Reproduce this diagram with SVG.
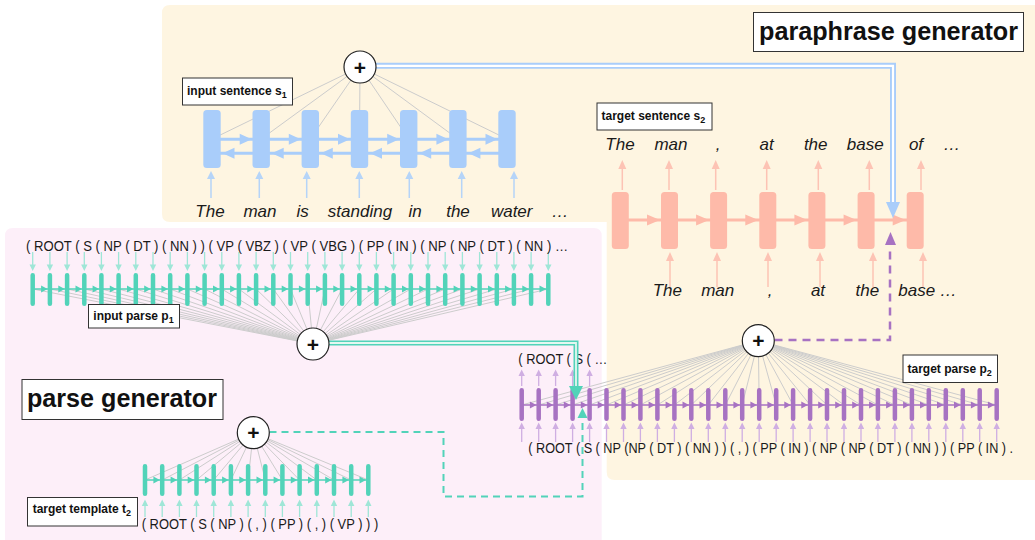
<svg xmlns="http://www.w3.org/2000/svg" width="1035" height="540" viewBox="0 0 1035 540">
<style>
.gl{stroke:#cccccc;stroke-width:1;fill:none}
.lbl{fill:#fff;stroke:#333;stroke-width:1}
.lt{font-family:"Liberation Sans",Arial,sans-serif;font-weight:bold;font-size:12px;fill:#111}
.big{font-size:25px}
.w{font-family:"Liberation Sans",Arial,sans-serif;font-style:italic;font-size:17px;fill:#1a1a1a;text-anchor:middle}
.pt{font-family:"Liberation Sans",Arial,sans-serif;font-size:15px;fill:#1a1a1a}
.circ{fill:#fff;stroke:#222;stroke-width:1.2}
.plus{font-family:"Liberation Sans",Arial,sans-serif;font-weight:bold;font-size:21px;text-anchor:middle;fill:#111}
.blue{fill:#a9cdfa}
.blueL{stroke:#b5d4f8;stroke-width:1.5;fill:none}
.blueH{fill:#b5d4f8}
.sal{fill:#febaa9}
.salL{stroke:#fdc3b4;stroke-width:1.5;fill:none}
.salH{fill:#fdc3b4}
.tealBar{stroke:#52d3b9;stroke-width:4.5;stroke-linecap:round;fill:none}
.purBar{stroke:#a772c2;stroke-width:4.5;stroke-linecap:round;fill:none}
.tealL{stroke:#9fe6d7;stroke-width:1.3;fill:none}
.tealH{fill:#9fe6d7}
.purL{stroke:#cfaee2;stroke-width:1.3;fill:none}
.purH{fill:#cfaee2}
</style>
<rect width="1035" height="540" fill="#fff"/>
<g id="panels">
<path d="M170 5H1035V480H614.7Q606.7 480 606.7 472V222H170Q162 222 162 214V13Q162 5 170 5Z" fill="#fef5e1"/>
<path d="M13 228H593.7Q601.7 228 601.7 236V540H5V236Q5 228 13 228Z" fill="#fdeff9"/>
</g>

<g id="encoder">
<path class="gl" d="M360 67L212 139M360 67L261.2 139M360 67L310.3 139M360 67L359.5 139M360 67L408.7 139M360 67L457.9 139M360 67L507 139"/>
<path d="M212 139.3H507M212 153.3H507" stroke="#a9cdfa" stroke-width="3"/>
<g class="blue">
<rect x="203.3" y="110" width="17.4" height="58" rx="3.5"/>
<rect x="252.5" y="110" width="17.4" height="58" rx="3.5"/>
<rect x="301.6" y="110" width="17.4" height="58" rx="3.5"/>
<rect x="350.8" y="110" width="17.4" height="58" rx="3.5"/>
<rect x="400" y="110" width="17.4" height="58" rx="3.5"/>
<rect x="449.2" y="110" width="17.4" height="58" rx="3.5"/>
<rect x="498.3" y="110" width="17.4" height="58" rx="3.5"/>
<path d="M251.7 139.3l-12-5.5v11zM300.8 139.3l-12-5.5v11zM350 139.3l-12-5.5v11zM399.2 139.3l-12-5.5v11zM448.4 139.3l-12-5.5v11zM497.5 139.3l-12-5.5v11z"/>
<path d="M222.5 153.3l12-5.5v11zM271.7 153.3l12-5.5v11zM320.8 153.3l12-5.5v11zM370 153.3l12-5.5v11zM419.2 153.3l12-5.5v11zM468.4 153.3l12-5.5v11z"/>
</g>
<path class="blueL" d="M211 198V178M259.3 198V178M306.7 198V178M359.3 198V178M409.3 198V178M461.7 198V178M514 198V178"/>
<path class="blueH" d="M211 171l-4 8h8zM259.3 171l-4 8h8zM306.7 171l-4 8h8zM359.3 171l-4 8h8zM409.3 171l-4 8h8zM461.7 171l-4 8h8zM514 171l-4 8h8z"/>
<text class="w" x="210" y="217">The</text>
<text class="w" x="260" y="217">man</text>
<text class="w" x="302.7" y="217">is</text>
<text class="w" x="360" y="217">standing</text>
<text class="w" x="415" y="217">in</text>
<text class="w" x="458" y="217">the</text>
<text class="w" x="511.7" y="217">water</text>
<text class="w" x="560" y="217">…</text>
</g>

<g id="decoder">
<path d="M620.3 220H915.2" stroke="#febaa9" stroke-width="3"/>
<g class="sal">
<rect x="611.8" y="192" width="17" height="57" rx="3.5"/>
<rect x="661" y="192" width="17" height="57" rx="3.5"/>
<rect x="710.1" y="192" width="17" height="57" rx="3.5"/>
<rect x="759.3" y="192" width="17" height="57" rx="3.5"/>
<rect x="808.4" y="192" width="17" height="57" rx="3.5"/>
<rect x="857.6" y="192" width="17" height="57" rx="3.5"/>
<rect x="906.7" y="192" width="17" height="57" rx="3.5"/>
<path d="M660 220l-13-5.5v11zM709.1 220l-13-5.5v11zM758.3 220l-13-5.5v11zM807.4 220l-13-5.5v11zM856.6 220l-13-5.5v11zM905.7 220l-13-5.5v11z"/>
</g>
<path class="salL" d="M622.3 190V168M669 190V168M715.7 190V168M766.7 190V168M818.3 190V168M869.3 190V168M921 190V168"/>
<path class="salH" d="M622.3 160l-4 9h8zM669 160l-4 9h8zM715.7 160l-4 9h8zM766.7 160l-4 9h8zM818.3 160l-4 9h8zM869.3 160l-4 9h8zM921 160l-4 9h8z"/>
<path class="salL" d="M670 287V260M717 287V260M768 287V260M820 287V260M873 287V260M923 287V260"/>
<path class="salH" d="M670 252l-4 9h8zM717 252l-4 9h8zM768 252l-4 9h8zM820 252l-4 9h8zM873 252l-4 9h8zM923 252l-4 9h8z"/>
<text class="w" x="620" y="150">The</text>
<text class="w" x="671" y="150">man</text>
<text class="w" x="718" y="150">,</text>
<text class="w" x="766.7" y="150">at</text>
<text class="w" x="815.7" y="150">the</text>
<text class="w" x="865.3" y="150">base</text>
<text class="w" x="916" y="150">of</text>
<text class="w" x="951.7" y="150">…</text>
<text class="w" x="667.3" y="296">The</text>
<text class="w" x="717.7" y="296">man</text>
<text class="w" x="770" y="296">,</text>
<text class="w" x="818" y="296">at</text>
<text class="w" x="867.3" y="296">the</text>
<text class="w" x="916.7" y="296">base</text>
<text class="w" x="948.3" y="296">…</text>
</g>

<g id="input-parse">
<path class="gl" d="M313 344L32.7 289M313 344L49.9 289M313 344L67.1 289M313 344L84.3 289M313 344L101.4 289M313 344L118.6 289M313 344L135.8 289M313 344L153 289M313 344L170.2 289M313 344L187.4 289M313 344L204.6 289M313 344L221.8 289M313 344L238.9 289M313 344L256.1 289M313 344L273.3 289M313 344L290.5 289M313 344L307.7 289M313 344L324.9 289M313 344L342.1 289M313 344L359.3 289M313 344L376.4 289M313 344L393.6 289M313 344L410.8 289M313 344L428 289M313 344L445.2 289M313 344L462.4 289M313 344L479.6 289M313 344L496.8 289M313 344L513.9 289M313 344L531.1 289M313 344L548.3 289"/>
<path d="M32.7 289H548.3" stroke="#52d3b9" stroke-width="1.5"/>
<path class="tealBar" d="M32.7 275.3V303.7M49.9 275.3V303.7M67.1 275.3V303.7M84.3 275.3V303.7M101.4 275.3V303.7M118.6 275.3V303.7M135.8 275.3V303.7M153 275.3V303.7M170.2 275.3V303.7M187.4 275.3V303.7M204.6 275.3V303.7M221.8 275.3V303.7M238.9 275.3V303.7M256.1 275.3V303.7M273.3 275.3V303.7M290.5 275.3V303.7M307.7 275.3V303.7M324.9 275.3V303.7M342.1 275.3V303.7M359.3 275.3V303.7M376.4 275.3V303.7M393.6 275.3V303.7M410.8 275.3V303.7M428 275.3V303.7M445.2 275.3V303.7M462.4 275.3V303.7M479.6 275.3V303.7M496.8 275.3V303.7M513.9 275.3V303.7M531.1 275.3V303.7M548.3 275.3V303.7"/>
<path fill="#52d3b9" d="M47.6 289l-6.5-3.5v7zM64.8 289l-6.5-3.5v7zM82 289l-6.5-3.5v7zM99.1 289l-6.5-3.5v7zM116.3 289l-6.5-3.5v7zM133.5 289l-6.5-3.5v7zM150.7 289l-6.5-3.5v7zM167.9 289l-6.5-3.5v7zM185.1 289l-6.5-3.5v7zM202.3 289l-6.5-3.5v7zM219.5 289l-6.5-3.5v7zM236.6 289l-6.5-3.5v7zM253.8 289l-6.5-3.5v7zM271 289l-6.5-3.5v7zM288.2 289l-6.5-3.5v7zM305.4 289l-6.5-3.5v7zM322.6 289l-6.5-3.5v7zM339.8 289l-6.5-3.5v7zM357 289l-6.5-3.5v7zM374.1 289l-6.5-3.5v7zM391.3 289l-6.5-3.5v7zM408.5 289l-6.5-3.5v7zM425.7 289l-6.5-3.5v7zM442.9 289l-6.5-3.5v7zM460.1 289l-6.5-3.5v7zM477.3 289l-6.5-3.5v7zM494.5 289l-6.5-3.5v7zM511.6 289l-6.5-3.5v7zM528.8 289l-6.5-3.5v7zM546 289l-6.5-3.5v7z"/>
<path class="tealL" d="M32.7 252v13M49.9 252v13M67.1 252v13M84.3 252v13M101.4 252v13M118.6 252v13M135.8 252v13M153 252v13M170.2 252v13M187.4 252v13M204.6 252v13M221.8 252v13M238.9 252v13M256.1 252v13M273.3 252v13M290.5 252v13M307.7 252v13M324.9 252v13M342.1 252v13M359.3 252v13M376.4 252v13M393.6 252v13M410.8 252v13M428 252v13M445.2 252v13M462.4 252v13M479.6 252v13M496.8 252v13M513.9 252v13M531.1 252v13M548.3 252v13"/>
<path class="tealH" d="M32.7 271l-3.2-6.5h6.4zM49.9 271l-3.2-6.5h6.4zM67.1 271l-3.2-6.5h6.4zM84.3 271l-3.2-6.5h6.4zM101.4 271l-3.2-6.5h6.4zM118.6 271l-3.2-6.5h6.4zM135.8 271l-3.2-6.5h6.4zM153 271l-3.2-6.5h6.4zM170.2 271l-3.2-6.5h6.4zM187.4 271l-3.2-6.5h6.4zM204.6 271l-3.2-6.5h6.4zM221.8 271l-3.2-6.5h6.4zM238.9 271l-3.2-6.5h6.4zM256.1 271l-3.2-6.5h6.4zM273.3 271l-3.2-6.5h6.4zM290.5 271l-3.2-6.5h6.4zM307.7 271l-3.2-6.5h6.4zM324.9 271l-3.2-6.5h6.4zM342.1 271l-3.2-6.5h6.4zM359.3 271l-3.2-6.5h6.4zM376.4 271l-3.2-6.5h6.4zM393.6 271l-3.2-6.5h6.4zM410.8 271l-3.2-6.5h6.4zM428 271l-3.2-6.5h6.4zM445.2 271l-3.2-6.5h6.4zM462.4 271l-3.2-6.5h6.4zM479.6 271l-3.2-6.5h6.4zM496.8 271l-3.2-6.5h6.4zM513.9 271l-3.2-6.5h6.4zM531.1 271l-3.2-6.5h6.4zM548.3 271l-3.2-6.5h6.4z"/>
<text class="pt" x="26" y="251" textLength="542" lengthAdjust="spacingAndGlyphs">( ROOT ( S ( NP ( DT ) ( NN ) ) ( VP ( VBZ ) ( VP ( VBG ) ( PP ( IN ) ( NP ( NP ( DT ) ( NN ) …</text>
</g>

<g id="target-parse">
<path class="gl" d="M758.3 340.7L521.7 405M758.3 340.7L538.7 405M758.3 340.7L555.6 405M758.3 340.7L572.6 405M758.3 340.7L589.6 405M758.3 340.7L606.5 405M758.3 340.7L623.5 405M758.3 340.7L640.4 405M758.3 340.7L657.4 405M758.3 340.7L674.4 405M758.3 340.7L691.3 405M758.3 340.7L708.3 405M758.3 340.7L725.3 405M758.3 340.7L742.2 405M758.3 340.7L759.2 405M758.3 340.7L776.2 405M758.3 340.7L793.1 405M758.3 340.7L810.1 405M758.3 340.7L827 405M758.3 340.7L844 405M758.3 340.7L861 405M758.3 340.7L877.9 405M758.3 340.7L894.9 405M758.3 340.7L911.9 405M758.3 340.7L928.8 405M758.3 340.7L945.8 405M758.3 340.7L962.8 405M758.3 340.7L979.7 405M758.3 340.7L996.7 405"/>
<path d="M521.7 405H996.7" stroke="#a772c2" stroke-width="1.5"/>
<path class="purL" d="M521.7 386v-10M538.7 386v-10M555.6 386v-10M572.6 386v-10M589.6 386v-10"/>
<path class="purH" d="M521.7 369.5l-3.2 6.5h6.4zM538.7 369.5l-3.2 6.5h6.4zM555.6 369.5l-3.2 6.5h6.4zM572.6 369.5l-3.2 6.5h6.4zM589.6 369.5l-3.2 6.5h6.4z"/>
<path class="purBar" d="M521.7 390.3V418.7M538.7 390.3V418.7M555.6 390.3V418.7M572.6 390.3V418.7M589.6 390.3V418.7M606.5 390.3V418.7M623.5 390.3V418.7M640.4 390.3V418.7M657.4 390.3V418.7M674.4 390.3V418.7M691.3 390.3V418.7M708.3 390.3V418.7M725.3 390.3V418.7M742.2 390.3V418.7M759.2 390.3V418.7M776.2 390.3V418.7M793.1 390.3V418.7M810.1 390.3V418.7M827 390.3V418.7M844 390.3V418.7M861 390.3V418.7M877.9 390.3V418.7M894.9 390.3V418.7M911.9 390.3V418.7M928.8 390.3V418.7M945.8 390.3V418.7M962.8 390.3V418.7M979.7 390.3V418.7M996.7 390.3V418.7"/>
<path fill="#a772c2" d="M536.4 405l-6.5-3.5v7zM553.3 405l-6.5-3.5v7zM570.3 405l-6.5-3.5v7zM587.3 405l-6.5-3.5v7zM604.2 405l-6.5-3.5v7zM621.2 405l-6.5-3.5v7zM638.1 405l-6.5-3.5v7zM655.1 405l-6.5-3.5v7zM672.1 405l-6.5-3.5v7zM689 405l-6.5-3.5v7zM706 405l-6.5-3.5v7zM723 405l-6.5-3.5v7zM739.9 405l-6.5-3.5v7zM756.9 405l-6.5-3.5v7zM773.9 405l-6.5-3.5v7zM790.8 405l-6.5-3.5v7zM807.8 405l-6.5-3.5v7zM824.7 405l-6.5-3.5v7zM841.7 405l-6.5-3.5v7zM858.7 405l-6.5-3.5v7zM875.6 405l-6.5-3.5v7zM892.6 405l-6.5-3.5v7zM909.6 405l-6.5-3.5v7zM926.5 405l-6.5-3.5v7zM943.5 405l-6.5-3.5v7zM960.5 405l-6.5-3.5v7zM977.4 405l-6.5-3.5v7zM994.4 405l-6.5-3.5v7z"/>
<path class="purL" d="M521.7 442v-13M538.7 442v-13M555.6 442v-13M572.6 442v-13M589.6 442v-13M606.5 442v-13M623.5 442v-13M640.4 442v-13M657.4 442v-13M674.4 442v-13M691.3 442v-13M708.3 442v-13M725.3 442v-13M742.2 442v-13M759.2 442v-13M776.2 442v-13M793.1 442v-13M810.1 442v-13M827 442v-13M844 442v-13M861 442v-13M877.9 442v-13M894.9 442v-13M911.9 442v-13M928.8 442v-13M945.8 442v-13M962.8 442v-13M979.7 442v-13M996.7 442v-13"/>
<path class="purH" d="M521.7 422.5l-3.2 6.5h6.4zM538.7 422.5l-3.2 6.5h6.4zM555.6 422.5l-3.2 6.5h6.4zM572.6 422.5l-3.2 6.5h6.4zM589.6 422.5l-3.2 6.5h6.4zM606.5 422.5l-3.2 6.5h6.4zM623.5 422.5l-3.2 6.5h6.4zM640.4 422.5l-3.2 6.5h6.4zM657.4 422.5l-3.2 6.5h6.4zM674.4 422.5l-3.2 6.5h6.4zM691.3 422.5l-3.2 6.5h6.4zM708.3 422.5l-3.2 6.5h6.4zM725.3 422.5l-3.2 6.5h6.4zM742.2 422.5l-3.2 6.5h6.4zM759.2 422.5l-3.2 6.5h6.4zM776.2 422.5l-3.2 6.5h6.4zM793.1 422.5l-3.2 6.5h6.4zM810.1 422.5l-3.2 6.5h6.4zM827 422.5l-3.2 6.5h6.4zM844 422.5l-3.2 6.5h6.4zM861 422.5l-3.2 6.5h6.4zM877.9 422.5l-3.2 6.5h6.4zM894.9 422.5l-3.2 6.5h6.4zM911.9 422.5l-3.2 6.5h6.4zM928.8 422.5l-3.2 6.5h6.4zM945.8 422.5l-3.2 6.5h6.4zM962.8 422.5l-3.2 6.5h6.4zM979.7 422.5l-3.2 6.5h6.4zM996.7 422.5l-3.2 6.5h6.4z"/>
<text class="pt" x="518.3" y="364" textLength="89" lengthAdjust="spacingAndGlyphs">( ROOT ( S ( …</text>
<g transform="scale(0.845 1)"><text class="pt" x="625.2" y="453">( ROOT ( S ( NP (NP ( DT ) ( NN ) ) ( , ) ( PP ( IN ) ( NP ( NP ( DT ) ( NN ) ) ( PP ( IN ) .</text></g>
</g>

<g id="template">
<path class="gl" d="M253.3 432.7L145 480M253.3 432.7L162.2 480M253.3 432.7L179.4 480M253.3 432.7L196.5 480M253.3 432.7L213.7 480M253.3 432.7L230.9 480M253.3 432.7L248.1 480M253.3 432.7L265.3 480M253.3 432.7L282.4 480M253.3 432.7L299.6 480M253.3 432.7L316.8 480M253.3 432.7L334 480M253.3 432.7L351.2 480M253.3 432.7L368.3 480"/>
<path d="M145 480H368.3" stroke="#52d3b9" stroke-width="1.5"/>
<path class="tealBar" d="M145 466.3V493.7M162.2 466.3V493.7M179.4 466.3V493.7M196.5 466.3V493.7M213.7 466.3V493.7M230.9 466.3V493.7M248.1 466.3V493.7M265.3 466.3V493.7M282.4 466.3V493.7M299.6 466.3V493.7M316.8 466.3V493.7M334 466.3V493.7M351.2 466.3V493.7M368.3 466.3V493.7"/>
<path fill="#52d3b9" d="M159.9 480l-6.5-3.5v7zM177.1 480l-6.5-3.5v7zM194.2 480l-6.5-3.5v7zM211.4 480l-6.5-3.5v7zM228.6 480l-6.5-3.5v7zM245.8 480l-6.5-3.5v7zM263 480l-6.5-3.5v7zM280.1 480l-6.5-3.5v7zM297.3 480l-6.5-3.5v7zM314.5 480l-6.5-3.5v7zM331.7 480l-6.5-3.5v7zM348.9 480l-6.5-3.5v7zM366 480l-6.5-3.5v7z"/>
<path class="tealL" d="M145 517v-11M162.2 517v-11M179.4 517v-11M196.5 517v-11M213.7 517v-11M230.9 517v-11M248.1 517v-11M265.3 517v-11M282.4 517v-11M299.6 517v-11M316.8 517v-11M334 517v-11M351.2 517v-11M368.3 517v-11"/>
<path class="tealH" d="M145 499.5l-3.2 6.5h6.4zM162.2 499.5l-3.2 6.5h6.4zM179.4 499.5l-3.2 6.5h6.4zM196.5 499.5l-3.2 6.5h6.4zM213.7 499.5l-3.2 6.5h6.4zM230.9 499.5l-3.2 6.5h6.4zM248.1 499.5l-3.2 6.5h6.4zM265.3 499.5l-3.2 6.5h6.4zM282.4 499.5l-3.2 6.5h6.4zM299.6 499.5l-3.2 6.5h6.4zM316.8 499.5l-3.2 6.5h6.4zM334 499.5l-3.2 6.5h6.4zM351.2 499.5l-3.2 6.5h6.4zM368.3 499.5l-3.2 6.5h6.4z"/>
<text class="pt" x="141.7" y="529" textLength="236.6" lengthAdjust="spacingAndGlyphs">( ROOT ( S ( NP ) ( , ) ( PP ) ( , ) ( VP ) ) )</text>
</g>

<g id="connectors">
<path d="M375 65.8H893V203" fill="none" stroke="#a9cdfa" stroke-width="6"/>
<path d="M375 65.8H893V203" fill="none" stroke="#fff" stroke-width="2.2"/>
<path d="M893 218l-7-16h14z" fill="#a9cdfa"/>
<path d="M774.5 340H890V246" fill="none" stroke="#a772c2" stroke-width="2.5" stroke-dasharray="8 6"/>
<path d="M890.5 232l-5.5 13h11z" fill="#a772c2"/>
<path d="M269.5 432H443.5V496.5H582.5V418" fill="none" stroke="#52d3b9" stroke-width="2" stroke-dasharray="7 5"/>
<path d="M582.5 408l-5 10h10z" fill="#52d3b9"/>
<path d="M329 343H576V388" fill="none" stroke="#52d3b9" stroke-width="5"/>
<path d="M329 343H576V388" fill="none" stroke="#e3f7f1" stroke-width="1.8"/>
<path d="M576 400l-7-14h14z" fill="#52d3b9"/>
</g>

<g id="sum-encoder"><circle class="circ" cx="360" cy="67" r="16"/><text class="plus" x="360" y="74.5">+</text></g>
<g id="sum-input-parse"><circle class="circ" cx="313" cy="344" r="16"/><text class="plus" x="313" y="351.5">+</text></g>
<g id="sum-target-parse"><circle class="circ" cx="758.3" cy="340.7" r="16"/><text class="plus" x="758.3" y="348.2">+</text></g>
<g id="sum-template"><circle class="circ" cx="253.3" cy="432.7" r="16"/><text class="plus" x="253.3" y="440.2">+</text></g>

<g id="label-input-sentence"><rect class="lbl" x="182.5" y="78" width="110" height="27"/><text class="lt" x="187" y="95">input sentence s<tspan font-size="9" dy="3">1</tspan></text></g>
<g id="label-target-sentence"><rect class="lbl" x="597" y="103" width="115" height="27"/><text class="lt" x="601.5" y="120">target sentence s<tspan font-size="9" dy="3">2</tspan></text></g>
<g id="label-input-parse"><rect class="lbl" x="88.5" y="304.5" width="91" height="23.5"/><text class="lt" x="93.3" y="320">input parse p<tspan font-size="9" dy="3">1</tspan></text></g>
<g id="label-target-parse"><rect class="lbl" x="903" y="355" width="94.5" height="27.5"/><text class="lt" x="907.5" y="372.5">target parse p<tspan font-size="9" dy="3">2</tspan></text></g>
<g id="label-target-template"><rect class="lbl" x="27.5" y="497.5" width="110" height="28.5"/><text class="lt" x="32.7" y="513">target template t<tspan font-size="9" dy="3">2</tspan></text></g>
<g id="title-parse"><rect class="lbl" x="22" y="379.5" width="201" height="40"/><text class="lt big" x="27" y="407" textLength="190" lengthAdjust="spacingAndGlyphs">parse generator</text></g>
<g id="title-paraphrase"><rect class="lbl" x="753.5" y="12.5" width="270" height="39"/><text class="lt big" x="759" y="40" textLength="259" lengthAdjust="spacingAndGlyphs">paraphrase generator</text></g>
</svg>
